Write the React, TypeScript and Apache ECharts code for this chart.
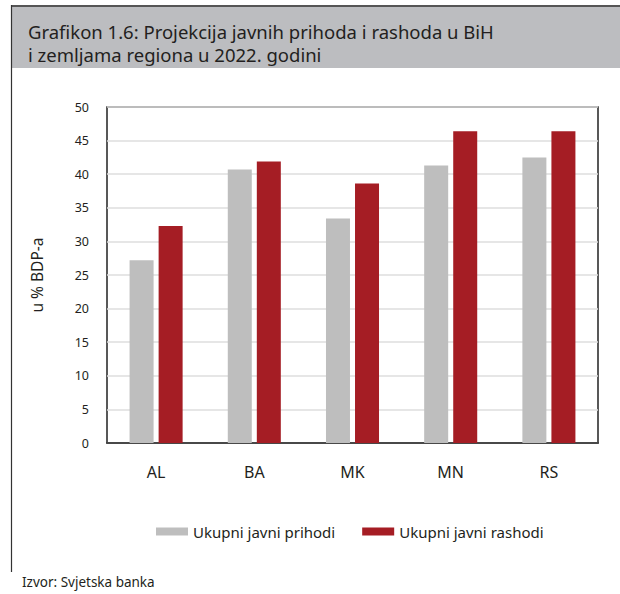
import React, { useEffect, useRef } from "react";
import * as echarts from "echarts";

const categories = ["AL", "BA", "MK", "MN", "RS"];
const prihodi = [27.2, 40.7, 33.4, 41.3, 42.5];
const rashodi = [32.3, 41.9, 38.6, 46.4, 46.4];
const seriesNames = ["Ukupni javni prihodi", "Ukupni javni rashodi"];
const titleText = "Grafikon 1.6: Projekcija javnih prihoda i rashoda u BiH\ni zemljama regiona u 2022. godini";
const yAxisName = "u % BDP-a";
const sourceText = "Izvor: Svjetska banka";

const FONT = "'Noto Sans', sans-serif";

export default function App() {
  const ref = useRef<HTMLDivElement>(null);
  useEffect(() => {
    const chart = echarts.init(ref.current!, null, { renderer: "svg" });
    chart.setOption({
      animation: false,
      backgroundColor: "#ffffff",
      textStyle: { fontFamily: FONT },
      title: {
        text: titleText,
        left: 28,
        top: 20,
        padding: 0,
        textStyle: {
          fontFamily: FONT,
          fontSize: 18.5,
          fontWeight: "normal",
          color: "#231f20",
          lineHeight: 23,
        },
      },
      legend: {
        left: 151,
        top: 519,
        itemWidth: 32,
        itemHeight: 8,
        itemGap: 27,
        icon: "rect",
        textStyle: { fontFamily: FONT, fontSize: 15, color: "#231f20" },
        data: seriesNames,
      },
      grid: {
        left: 107,
        top: 107,
        right: 22,
        bottom: 151,
        show: true,
        borderColor: "#222222",
        borderWidth: 1.5,
        backgroundColor: "transparent",
      },
      xAxis: {
        type: "category",
        data: categories,
        axisLine: { show: true, lineStyle: { color: "#222222", width: 1.5 } },
        axisTick: { show: false },
        axisLabel: { fontFamily: FONT, fontSize: 16, color: "#231f20", margin: 21 },
      },
      yAxis: {
        type: "value",
        min: 0,
        max: 50,
        interval: 5,
        name: yAxisName,
        nameLocation: "middle",
        nameRotate: 90,
        nameGap: 62,
        nameTextStyle: { fontFamily: FONT, fontSize: 15.5, color: "#231f20" },
        axisLine: { show: false },
        axisTick: { show: false },
        axisLabel: { fontFamily: FONT, fontSize: 12.5, color: "#231f20", margin: 18 },
        splitLine: { show: true, lineStyle: { color: "#dedede", width: 1.5 } },
      },
      series: [
        {
          name: seriesNames[0],
          type: "bar",
          data: prihodi,
          barWidth: 24,
          barGap: "21%",
          itemStyle: { color: "#bebebe" },
        },
        {
          name: seriesNames[1],
          type: "bar",
          data: rashodi,
          barWidth: 24,
          itemStyle: { color: "#a51d24" },
        },
      ],
      graphic: [
        {
          type: "rect",
          z: -10,
          shape: { x: 12, y: 6, width: 608, height: 62 },
          style: { fill: "#bcbdc0" },
        },
        {
          type: "line",
          z: 10,
          shape: { x1: 11, y1: 6, x2: 620, y2: 6 },
          style: { stroke: "#555555", lineWidth: 2 },
        },
        {
          type: "line",
          z: 10,
          shape: { x1: 11.5, y1: 5, x2: 11.5, y2: 572 },
          style: { stroke: "#333333", lineWidth: 1.2 },
        },
        {
          type: "text",
          left: 22,
          top: 575,
          style: { text: sourceText, fontFamily: FONT, fontSize: 13.5, fill: "#231f20" },
        },
      ],
    });
    return () => chart.dispose();
  }, []);
  return (
    <div
      ref={ref}
      style={{ position: "fixed", left: 0, top: 0, width: 620, height: 594 }}
    />
  );
}
